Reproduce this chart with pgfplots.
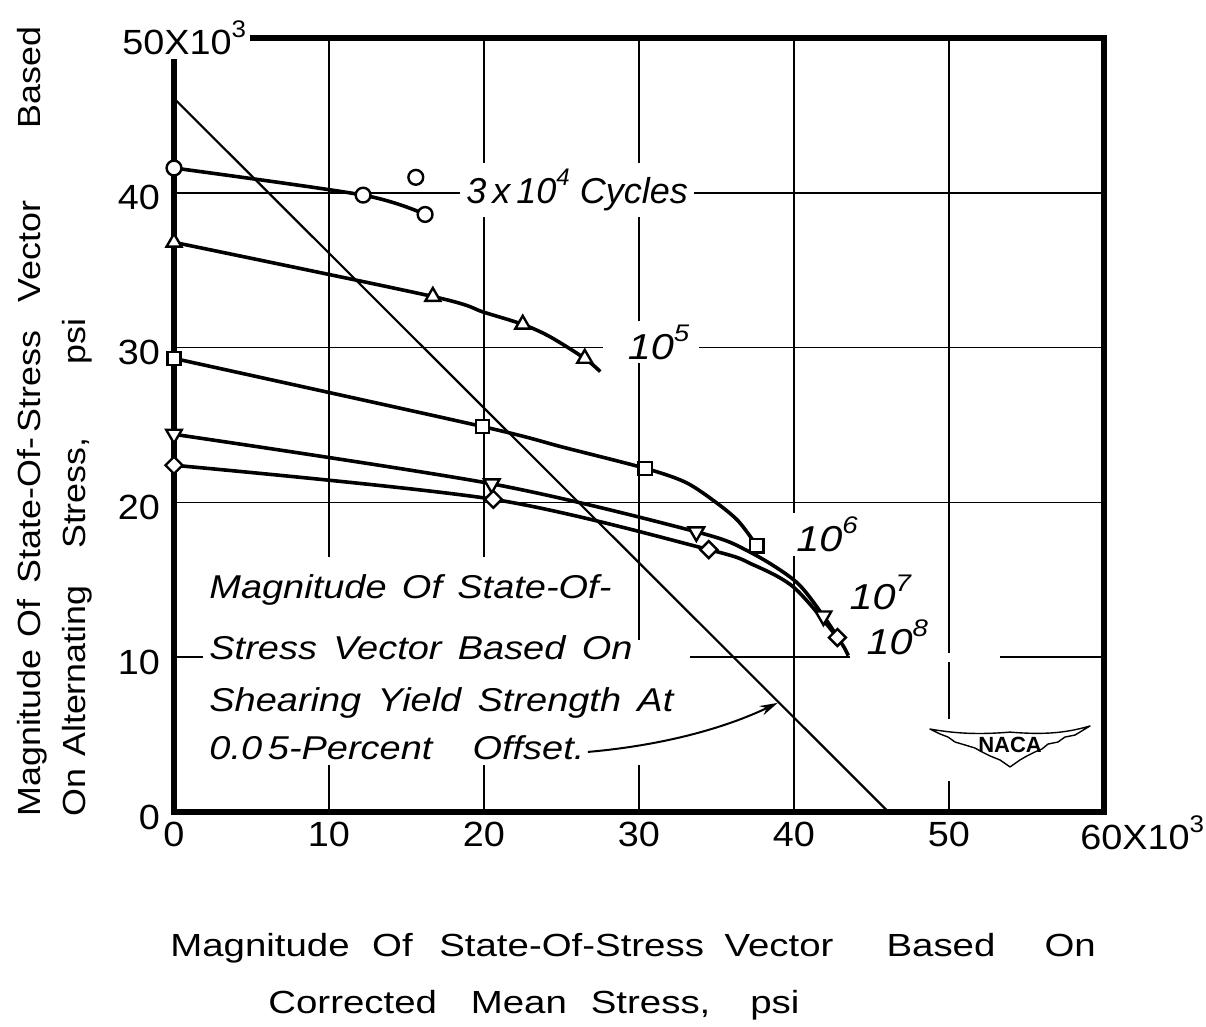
\documentclass[border=0pt]{standalone}
\usepackage{fontspec}
\setmainfont{Liberation Sans}
\newfontfamily\tickfam[FakeStretch=1.08]{Liberation Sans}
\newfontfamily\lblfam[FakeStretch=1.12]{Liberation Sans}
\newfontfamily\xlblfam[FakeStretch=1.2]{Liberation Sans}
\newfontfamily\annfam[FakeStretch=1.15]{Liberation Sans}
\usepackage{pgfplots}
\pgfplotsset{compat=1.18}
\usetikzlibrary{arrows.meta}

\newcommand{\sps}[2][12]{\raisebox{0.5em}{\fontsize{#1}{#1}\selectfont #2}}
\newcommand{\tickfont}{\tickfam\fontsize{17.5}{18}\selectfont}
\newcommand{\inlab}{\annfam\itshape\fontsize{18}{20}\selectfont}
\newcommand{\cyclab}{\itshape\fontsize{18}{20}\selectfont}
\newcommand{\annfont}{\annfam\itshape\fontsize{16.5}{20}\selectfont}

\begin{document}
\begin{tikzpicture}
\path[use as bounding box] (-87pt,-107.5pt) rectangle (516pt,406pt);
\begin{axis}[
  at={(0pt,0pt)}, anchor=south west,
  scale only axis, width=465pt, height=387pt,
  xmin=0, xmax=60, ymin=0, ymax=50,
  xtick={0,10,20,30,40,50}, ytick={0,10,20,30,40},
  grid=major,
  major grid style={black, line width=0.8pt},
  axis line style={line width=2.6pt, line cap=rect},
  major tick length=0pt,
  tick style={draw=none},
  /pgf/number format/assume math mode=true,
  xticklabel style={font=\tickfont, yshift=-1.5pt},
  yticklabel style={font=\tickfont, xshift=-3.5pt, yshift=-2.5pt},
  clip=false,
]
% gaps in the grid behind text
\fill[white] (axis cs:1.87,3.04) rectangle (axis cs:29.3,16.47);
\fill[white] (axis cs:29.3,3.04) rectangle (axis cs:33.3,11.1);
\fill[white] (axis cs:43.6,9.7) rectangle (axis cs:53.3,10.3);
\fill[white] (axis cs:27.7,29.7) rectangle (axis cs:33.9,30.3);
\fill[white] (axis cs:49.5,2.0) rectangle (axis cs:50.5,6.0);

% yield-strength line
\addplot[black, line width=1.1pt] coordinates {(0,46.1) (46.1,0)};

% 3x10^4 cycles
\addplot[black, line width=1.8pt, smooth] coordinates {(0,41.6) (12.2,39.85) (16.2,38.6)};
\addplot[only marks, mark=*, mark size=3.7pt, mark options={fill=white, draw=black, line width=1.2pt}] coordinates {(0,41.6) (12.2,39.85) (16.2,38.6) (15.6,41.0)};

% 10^5
\addplot[black, line width=1.8pt, smooth] coordinates {(0,36.8) (16.7,33.3) (20,32.28) (22.5,31.5) (24.26,30.7) (26.5,29.3) (27.5,28.45)};
\addplot[only marks, mark=triangle*, mark size=4.3pt, mark options={fill=white, draw=black, line width=1.2pt}] coordinates {(0,36.8) (16.7,33.3) (22.5,31.5) (26.5,29.3)};

% 10^6
\addplot[black, line width=1.8pt, smooth] coordinates {(0,29.3) (19.9,24.9) (25.12,23.56) (30.4,22.2) (33.0,21.3) (34.9,20.05) (36.4,18.8) (37.6,17.2)};
\addplot[only marks, mark=square*, mark size=3.3pt, mark options={fill=white, draw=black, line width=1.2pt}] coordinates {(0,29.3) (19.9,24.9) (30.4,22.2) (37.6,17.2)};

% 10^7
\addplot[black, line width=1.8pt, smooth] coordinates {(0,24.4) (20.5,21.2) (33.7,18.1) (37.06,16.84) (40.1,14.9) (41.9,12.66) (42.8,11.3)};
\addplot[only marks, mark=triangle*, mark size=4.5pt, mark options={fill=white, draw=black, line width=1.2pt, rotate=180}] coordinates {(0,24.4) (20.5,21.2) (33.7,18.1) (41.9,12.66)};

% 10^8
\addplot[black, line width=1.8pt, smooth] coordinates {(0,22.4) (20.6,20.2) (34.5,16.95) (37.3,16.0) (40.0,14.5) (42.8,11.27) (43.5,10.1)};
\addplot[only marks, mark=square*, mark size=3pt, mark options={fill=white, draw=black, line width=1.2pt, rotate=45}] coordinates {(0,22.4) (20.6,20.2) (34.5,16.95) (42.8,11.27)};

% curve labels
\node[anchor=base west, fill=white, inner sep=3pt, font=\cyclab] at (axis cs:18.45,39.28) {3\,x\,10\sps{4} Cycles};
\node[anchor=base west, fill=white, inner sep=2pt, font=\inlab] at (axis cs:29.0,29.26) {10\sps{5}};
\node[anchor=base west, fill=white, inner sep=2pt, font=\inlab] at (axis cs:39.87,16.8) {10\sps{6}};
\node[anchor=base west, fill=white, inner sep=2pt, font=\inlab] at (axis cs:43.3,13.1) {10\sps{7}};
\node[anchor=base west, fill=white, inner sep=2pt, font=\inlab] at (axis cs:44.4,10.2) {10\sps{8}};

% annotation
\node[anchor=base west, inner sep=0pt, font=\annfont] at (axis cs:2.26,13.82) {\makebox[201pt][s]{Magnitude Of State-Of-}};
\node[anchor=base west, inner sep=0pt, font=\annfont] at (axis cs:2.26,9.82) {\makebox[211.5pt][s]{Stress Vector Based On}};
\node[anchor=base west, inner sep=0pt, font=\annfont] at (axis cs:2.26,6.52) {\makebox[232pt][s]{Shearing Yield Strength At}};
\node[anchor=base west, inner sep=0pt, font=\annfont] at (axis cs:2.26,3.36) {\makebox[187.5pt][s]{0.0\hspace{1pt plus 0.4fil}5-Percent\hspace{6pt plus 3fil}Offset.}};
\draw[line width=1pt, -{Stealth[length=9pt,width=5pt]}] (axis cs:26.7,3.88) .. controls (axis cs:31.5,4.3) and (axis cs:35.5,5.4) .. (axis cs:38.95,7.05);

% NACA emblem
\filldraw[fill=white, draw=black, line width=0.7pt, line join=round]
  (axis cs:48.77,5.36) .. controls (axis cs:50.5,5.05) and (axis cs:52,5.0) .. (axis cs:53.94,5.16)
  .. controls (axis cs:55.9,5.0) and (axis cs:57.4,5.05) .. (axis cs:59.10,5.56)
  -- (axis cs:58.13,4.97) -- (axis cs:57.48,4.84) -- (axis cs:57.03,4.52) -- (axis cs:56.39,4.39)
  -- (axis cs:56.0,4.07) -- (axis cs:55.55,3.88) -- (axis cs:55.03,3.62) -- (axis cs:54.58,3.36)
  -- (axis cs:53.94,2.91) -- (axis cs:53.29,3.36) -- (axis cs:52.65,3.62) -- (axis cs:52.13,3.88)
  -- (axis cs:51.68,4.13) -- (axis cs:51.03,4.33) -- (axis cs:50.39,4.52) -- (axis cs:49.94,4.84)
  -- (axis cs:49.42,5.04) -- cycle;
\node[font=\bfseries\fontsize{11}{11}\selectfont, inner sep=0pt] at (axis cs:53.94,4.35) {NACA};
\end{axis}

% end tick labels with exponent
\node[anchor=base west, fill=white, inner sep=2pt, font=\tickfont] at (-28pt,378.5pt) {50X10\sps{3}};
\node[anchor=base west, inner sep=0pt, font=\tickfont] at (453pt,-19pt) {60X10\sps{3}};

% axis titles
\node[anchor=base west, inner sep=0pt, font=\xlblfam\fontsize{16}{18}\selectfont] at (-2pt,-72.5pt)
  {\makebox[463pt][l]{Magnitude\hspace{11pt plus 1fil}Of\hspace{13pt plus 1fil}State-Of-Stress\hspace{10pt plus 1fil}Vector\hspace{26pt plus 2fil}Based\hspace{24pt plus 2fil}On}};
\node[anchor=base west, inner sep=0pt, font=\xlblfam\fontsize{16}{18}\selectfont] at (47pt,-101pt)
  {\makebox[267.5pt][l]{Corrected\hspace{15pt plus 1fil}Mean\hspace{10pt plus 1fil}Stress,\hspace{18pt plus 1fil}psi}};
\node[anchor=base west, inner sep=0pt, rotate=90, font=\lblfam\fontsize{16}{18}\selectfont] at (-66.5pt,-2.5pt)
  {\makebox[395pt][l]{Magnitude\hspace{6pt}Of\hspace{8pt}State-Of-\hspace{3pt}Stress\hspace{14pt}Vector\hfill Based}};
\node[anchor=base west, inner sep=0pt, rotate=90, font=\lblfam\fontsize{16}{18}\selectfont] at (-44pt,-2.5pt)
  {\makebox[251.5pt][l]{On\hspace{6pt}Alternating\hspace{16pt plus 1fil}Stress,\hspace{32pt plus 2fil}psi}};
\end{tikzpicture}
\end{document}
